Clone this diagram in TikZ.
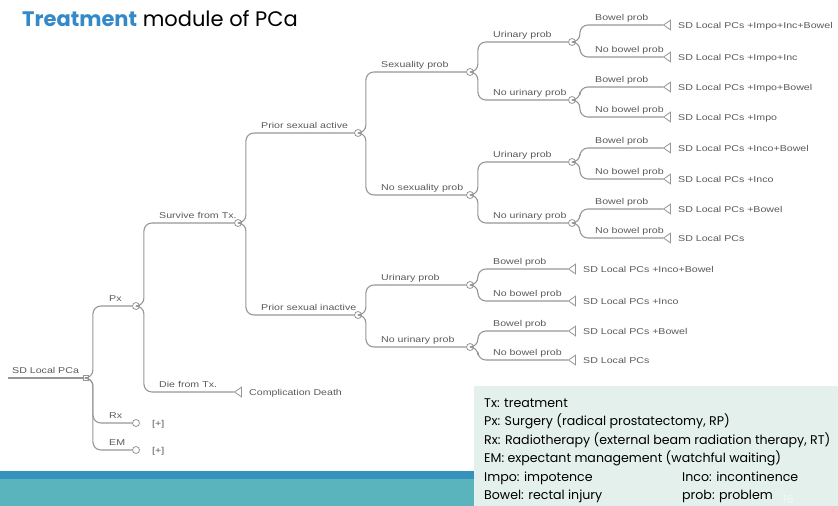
\documentclass[tikz,border=0pt]{standalone}
\usepackage{fontspec}
\setmainfont{Liberation Sans}
\newfontfamily\titlefont{Poppins}
\usetikzlibrary{shapes.geometric,calc}
\definecolor{ttlblue}{RGB}{52,138,201}
\definecolor{barblue}{RGB}{53,146,189}
\definecolor{barteal}{RGB}{89,180,190}
\definecolor{notebg}{RGB}{227,240,236}
\definecolor{treeline}{RGB}{150,150,150}
\definecolor{treetext}{RGB}{90,90,90}

% widened tree-label text
\newcommand\wtxt[1]{\scalebox{1.25}[1]{#1}}
% branch from parent #1 to child #2 with label #3
\newcommand\br[3]{%
  \draw[edge] (#1.east) -- ++(4,0) |- (#2);
  \node[lbl] (#2-l) at ($(#1.center |- #2.center)+(23,-5)$) {\wtxt{#3}};}
% terminal text #2 next to terminal node #1
\newcommand\outcome[2]{%
  \node[lbl] (#1-t) at ($(#1.center)+(10,3)$) {\wtxt{#2}};}

\begin{document}
\begin{tikzpicture}[x=1pt,y=-1pt,
  edge/.style={draw=treeline,line width=1.1pt,rounded corners=8pt},
  chance/.style={circle,draw=treeline,fill=white,line width=0.8pt,minimum size=7pt,inner sep=0pt},
  decis/.style={rectangle,draw=treeline,fill=white,line width=0.8pt,minimum size=5pt,inner sep=0pt},
  term/.style={isosceles triangle,isosceles triangle apex angle=70,shape border rotate=180,draw=treeline,fill=white,line width=0.8pt,minimum size=7pt,inner sep=0pt},
  lbl/.style={anchor=base west,inner sep=0pt,text=treetext,font=\fontsize{8.5}{9}\selectfont},
  note/.style={anchor=base west,inner sep=0pt,font=\titlefont\fontsize{12.6}{14}\selectfont}]
\useasboundingbox (0,0) rectangle (838,506);

% footer bars and legend panel
\fill[barblue] (0,471) rectangle (474,479);
\fill[barteal] (0,479) rectangle (474,506);
\fill[notebg] (474,386) rectangle (838,506);

% title
\node[anchor=base west,inner sep=0pt,font=\titlefont\fontsize{21}{24}\selectfont] (title) at (22,27)
  {\textcolor{ttlblue}{\bfseries Treatment} module of PCa};

% decision and chance nodes
\node[decis] (root) at (86,378) {};
\node[chance] (px) at (136,306) {};
\node[chance] (rx) at (136,423) {};
\node[chance] (em) at (136,450) {};
\node[chance] (srv) at (238,223) {};
\node[term] (die) at (239,392) {};
\node[chance] (psa) at (358,133) {};
\node[chance] (psi) at (358,315) {};
\node[chance] (sp) at (470,72) {};
\node[chance] (nsp) at (470,195) {};
\node[chance] (up1) at (572,42) {};
\node[chance] (nup1) at (572,100) {};
\node[chance] (up2) at (572,162) {};
\node[chance] (nup2) at (572,223) {};
\node[chance] (up3) at (470,285) {};
\node[chance] (nup3) at (470,347) {};

% terminal nodes
\node[term] (t1) at (668,25) {};
\node[term] (t2) at (668,57) {};
\node[term] (t3) at (668,87) {};
\node[term] (t4) at (668,117) {};
\node[term] (t5) at (668,148) {};
\node[term] (t6) at (668,179) {};
\node[term] (t7) at (668,209) {};
\node[term] (t8) at (668,238) {};
\node[term] (t9) at (573,269) {};
\node[term] (t10) at (573,301) {};
\node[term] (t11) at (573,331) {};
\node[term] (t12) at (573,360) {};

% root stub
\coordinate (r0) at (8,378);
\draw[edge] (r0) -- (root);
\node[lbl] (root-l) at (12,373) {\wtxt{SD Local PCa}};

% branches
\br{root}{px}{Px}
\br{root}{rx}{Rx}
\br{root}{em}{EM}
\br{px}{srv}{Survive from Tx.}
\br{px}{die}{Die from Tx.}
\br{srv}{psa}{Prior sexual active}
\br{srv}{psi}{Prior sexual inactive}
\br{psa}{sp}{Sexuality prob}
\br{psa}{nsp}{No sexuality prob}
\br{sp}{up1}{Urinary prob}
\br{sp}{nup1}{No urinary prob}
\br{nsp}{up2}{Urinary prob}
\br{nsp}{nup2}{No urinary prob}
\br{psi}{up3}{Urinary prob}
\br{psi}{nup3}{No urinary prob}
\br{up1}{t1}{Bowel prob}
\br{up1}{t2}{No bowel prob}
\br{nup1}{t3}{Bowel prob}
\br{nup1}{t4}{No bowel prob}
\br{up2}{t5}{Bowel prob}
\br{up2}{t6}{No bowel prob}
\br{nup2}{t7}{Bowel prob}
\br{nup2}{t8}{No bowel prob}
\br{up3}{t9}{Bowel prob}
\br{up3}{t10}{No bowel prob}
\br{nup3}{t11}{Bowel prob}
\br{nup3}{t12}{No bowel prob}

% outcomes
\outcome{die}{Complication Death}
\node[lbl] (rx-t) at ($(rx.center)+(16,3)$) {\wtxt{[+]}};
\node[lbl] (em-t) at ($(em.center)+(16,3)$) {\wtxt{[+]}};
\outcome{t1}{SD Local PCs +Impo+Inc+Bowel}
\outcome{t2}{SD Local PCs +Impo+Inc}
\outcome{t3}{SD Local PCs +Impo+Bowel}
\outcome{t4}{SD Local PCs +Impo}
\outcome{t5}{SD Local PCs +Inco+Bowel}
\outcome{t6}{SD Local PCs +Inco}
\outcome{t7}{SD Local PCs +Bowel}
\outcome{t8}{SD Local PCs}
\outcome{t9}{SD Local PCs +Inco+Bowel}
\outcome{t10}{SD Local PCs +Inco}
\outcome{t11}{SD Local PCs +Bowel}
\outcome{t12}{SD Local PCs}

% legend
\node[note] (n1) at (484,407) {Tx: treatment};
\node[note] (n2) at (484,425.5) {Px: Surgery (radical prostatectomy, RP)};
\node[note] (n3) at (484,444) {Rx: Radiotherapy (external beam radiation therapy, RT)};
\node[note] (n4) at (484,462.5) {EM: expectant management (watchful waiting)};
\node[note] (n5) at (484,481) {Impo: impotence};
\node[note] (n6) at (682,481) {Inco: incontinence};
\node[note] (n7) at (484,499.5) {Bowel: rectal injury};
\node[note] (n8) at (682,499.5) {prob: problem};
\node[note,text=white!65!notebg,font=\titlefont\fontsize{11}{12}\selectfont] (pg) at (783,503.5) {16};
\end{tikzpicture}
\end{document}
